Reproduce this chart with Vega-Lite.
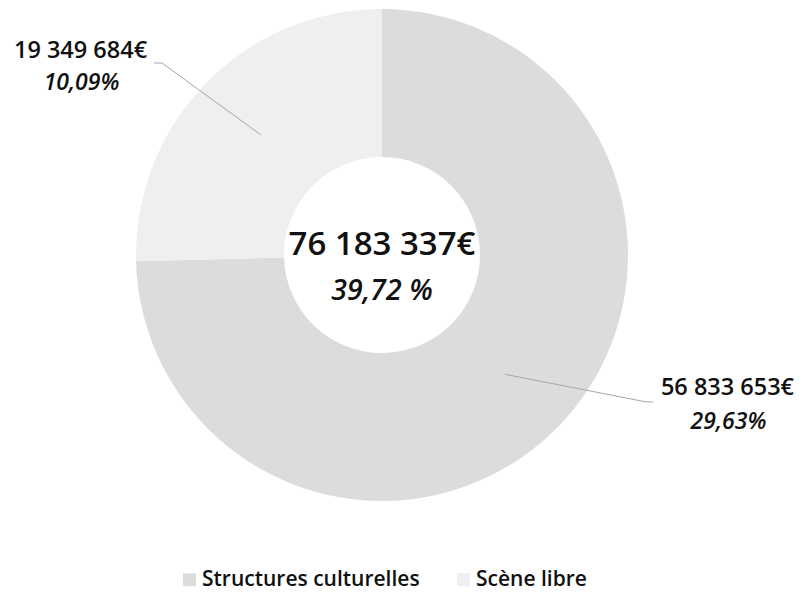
{
  "$schema": "https://vega.github.io/schema/vega-lite/v6.json",
  "width": 764,
  "height": 510,
  "autosize": {"type": "none"},
  "padding": {"left": 0, "top": 0, "right": 48, "bottom": 82},
  "background": "white",
  "config": {"view": {"stroke": null}, "font": "Open Sans"},
  "datasets": {
    "slices": [
      {"cat": "Structures culturelles", "value": 56833653, "label": "56 833 653€", "pct": "29,63%"},
      {"cat": "Scène libre", "value": 19349684, "label": "19 349 684€", "pct": "10,09%"}
    ],
    "total": [{"total": "76 183 337€", "share": "39,72 %"}]
  },
  "layer": [
    {
      "data": {"name": "slices"},
      "mark": {"type": "arc", "innerRadius": 98, "outerRadius": 246},
      "encoding": {
        "theta": {"field": "value", "type": "quantitative", "stack": true},
        "order": {"field": "value", "sort": "descending"},
        "color": {
          "field": "cat",
          "type": "nominal",
          "scale": {"domain": ["Structures culturelles", "Scène libre"], "range": ["#dcdcdc", "#efefef"]},
          "legend": {
            "title": null,
            "orient": "none",
            "legendX": 179,
            "legendY": 569,
            "padding": 0,
            "direction": "horizontal",
            "symbolType": "square",
            "symbolSize": 169,
            "symbolStrokeWidth": 0,
            "labelFont": "Open Sans",
            "labelFontSize": 21,
            "labelFontWeight": 600,
            "labelColor": "#111111",
            "labelOffset": 2,
            "labelLimit": 0,
            "columnPadding": 33
          }
        }
      }
    },
    {
      "data": {"name": "total"},
      "mark": {
        "type": "point",
        "shape": "M -0.76 -0.64 L -0.7333 -0.64 L -0.4033 -0.4 M 0.41 0.3977 L 0.8767 0.489 L 0.9033 0.49",
        "size": 360000,
        "filled": false,
        "color": "#a6a6a6",
        "strokeWidth": 1,
        "opacity": 1
      },
      "encoding": {}
    },
    {
      "data": {"name": "slices"},
      "mark": {"type": "text", "radius": 250, "dx": -122.5, "dy": -29, "fontSize": 23.5, "fontWeight": 600, "font": "Open Sans", "color": "#111111"},
      "encoding": {
        "theta": {"field": "value", "type": "quantitative", "stack": true},
        "order": {"field": "value", "sort": "descending"},
        "text": {"condition": {"test": "datum.cat === 'Scène libre'", "field": "label"}, "value": ""}
      }
    },
    {
      "data": {"name": "slices"},
      "mark": {"type": "text", "radius": 250, "dx": -121.5, "dy": 2.5, "fontSize": 23, "fontWeight": 600, "fontStyle": "italic", "font": "Open Sans", "color": "#111111"},
      "encoding": {
        "theta": {"field": "value", "type": "quantitative", "stack": true},
        "order": {"field": "value", "sort": "descending"},
        "text": {"condition": {"test": "datum.cat === 'Scène libre'", "field": "pct"}, "value": ""}
      }
    },
    {
      "data": {"name": "slices"},
      "mark": {"type": "text", "radius": 250, "dx": 166.5, "dy": -41.7, "fontSize": 23.5, "fontWeight": 600, "font": "Open Sans", "color": "#111111"},
      "encoding": {
        "theta": {"field": "value", "type": "quantitative", "stack": true},
        "order": {"field": "value", "sort": "descending"},
        "text": {"condition": {"test": "datum.cat === 'Structures culturelles'", "field": "label"}, "value": ""}
      }
    },
    {
      "data": {"name": "slices"},
      "mark": {"type": "text", "radius": 250, "dx": 167.5, "dy": -7.2, "fontSize": 23, "fontWeight": 600, "fontStyle": "italic", "font": "Open Sans", "color": "#111111"},
      "encoding": {
        "theta": {"field": "value", "type": "quantitative", "stack": true},
        "order": {"field": "value", "sort": "descending"},
        "text": {"condition": {"test": "datum.cat === 'Structures culturelles'", "field": "pct"}, "value": ""}
      }
    },
    {
      "data": {"name": "total"},
      "mark": {"type": "text", "dy": -10.5, "fontSize": 33, "fontWeight": 600, "font": "Open Sans", "color": "#111111"},
      "encoding": {"text": {"field": "total"}}
    },
    {
      "data": {"name": "total"},
      "mark": {"type": "text", "dy": 35.6, "fontSize": 28.5, "fontWeight": 600, "fontStyle": "italic", "font": "Open Sans", "color": "#111111"},
      "encoding": {"text": {"field": "share"}}
    }
  ]
}
